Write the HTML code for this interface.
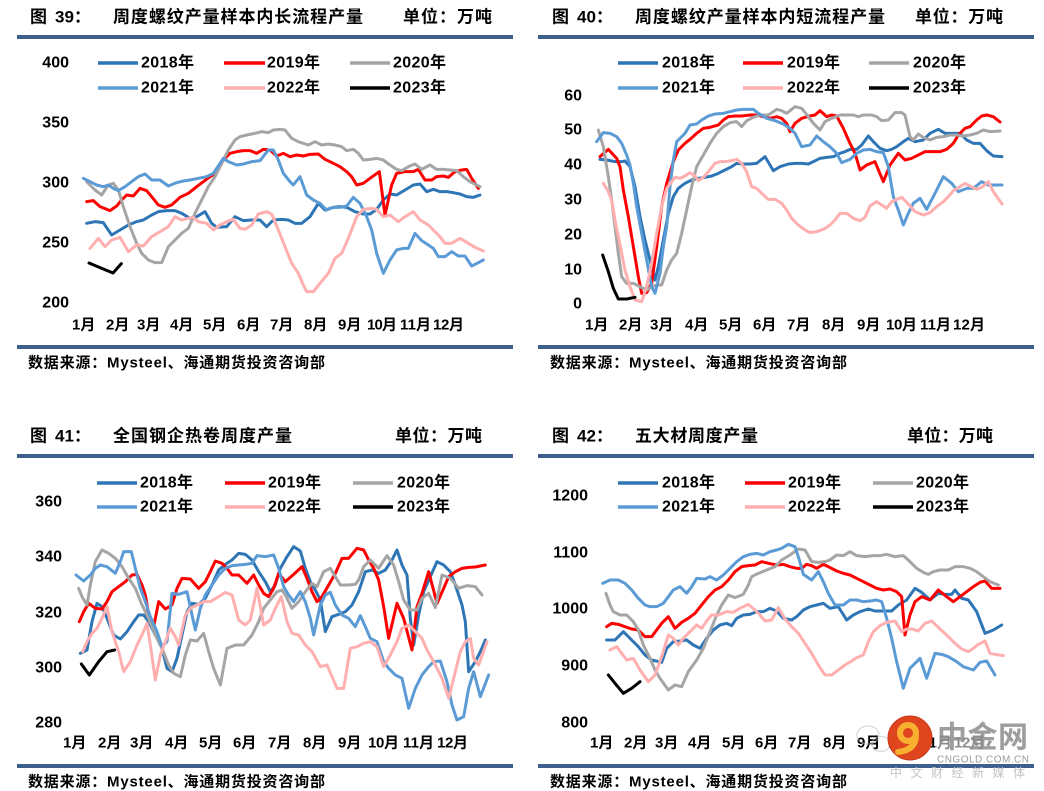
<!DOCTYPE html>
<html><head><meta charset="utf-8">
<style>
html,body{margin:0;padding:0;background:#fff;}
svg{display:block;}
.t{font-family:"Liberation Sans","Noto Sans CJK SC",sans-serif;font-weight:bold;font-size:17px;fill:#000;}
.ax{font-family:"Liberation Sans",sans-serif;font-weight:bold;font-size:16px;fill:#000;}
.lg{font-family:"Liberation Sans","Noto Sans CJK SC",sans-serif;font-weight:bold;font-size:16px;fill:#000;}
.mo{font-family:"Liberation Sans","Noto Sans CJK SC",sans-serif;font-weight:bold;font-size:15px;fill:#000;}
.src{font-family:"Liberation Sans","Noto Sans CJK SC",sans-serif;font-weight:bold;font-size:15px;fill:#000;}
.s{fill:none;stroke-width:9;stroke-linejoin:round;stroke-linecap:round;}
.c18{stroke:#2E75B6}.c19{stroke:#FF0000}.c20{stroke:#A5A5A5}.c21{stroke:#5B9BD5}.c22{stroke:#FFAFAF}.c23{stroke:#000}
.l{stroke-width:3.5;}
</style></head><body>
<svg width="1044" height="791" viewBox="0 0 1044 791" xmlns="http://www.w3.org/2000/svg">
<rect width="1044" height="791" fill="#fff"/>

<!-- ============ CHART 39 ============ -->
<text class="t" x="30" y="17" dominant-baseline="central">图</text>
<text class="t" x="55" y="17" dominant-baseline="central">39：</text>
<text class="t" x="113" y="17" dominant-baseline="central" textLength="250" lengthAdjust="spacing">周度螺纹产量样本内长流程产量</text>
<text class="t" x="403" y="17" dominant-baseline="central" textLength="89" lengthAdjust="spacing">单位：万吨</text>
<rect x="17" y="35" width="496" height="4" fill="#3D5F8E"/>
<g class="ax" text-anchor="end">
<text x="69" y="63" dominant-baseline="central">400</text>
<text x="69" y="123" dominant-baseline="central">350</text>
<text x="69" y="183" dominant-baseline="central">300</text>
<text x="69" y="243" dominant-baseline="central">250</text>
<text x="69" y="303" dominant-baseline="central">200</text>
</g>
<g>
<line x1="98" y1="63" x2="138" y2="63" class="c18 l"/><text class="lg" x="141" y="63" dominant-baseline="central" textLength="53">2018年</text>
<line x1="224" y1="63" x2="265" y2="63" class="c19 l"/><text class="lg" x="267" y="63" dominant-baseline="central" textLength="53">2019年</text>
<line x1="350" y1="63" x2="390" y2="63" class="c20 l"/><text class="lg" x="393" y="63" dominant-baseline="central" textLength="53">2020年</text>
<line x1="98" y1="88" x2="138" y2="88" class="c21 l"/><text class="lg" x="141" y="88" dominant-baseline="central" textLength="53">2021年</text>
<line x1="224" y1="88" x2="265" y2="88" class="c22 l"/><text class="lg" x="267" y="88" dominant-baseline="central" textLength="53">2022年</text>
<line x1="350" y1="88" x2="390" y2="88" class="c23 l"/><text class="lg" x="393" y="88" dominant-baseline="central" textLength="53">2023年</text>
</g>
<g class="mo">
<text x="72" y="325" dominant-baseline="central">1月</text>
<text x="106" y="325" dominant-baseline="central">2月</text>
<text x="137" y="325" dominant-baseline="central">3月</text>
<text x="170" y="325" dominant-baseline="central">4月</text>
<text x="203" y="325" dominant-baseline="central">5月</text>
<text x="237" y="325" dominant-baseline="central">6月</text>
<text x="270" y="325" dominant-baseline="central">7月</text>
<text x="304" y="325" dominant-baseline="central">8月</text>
<text x="338" y="325" dominant-baseline="central">9月</text>
<text x="367" y="325" dominant-baseline="central" textLength="30">10月</text>
<text x="400" y="325" dominant-baseline="central" textLength="31">11月</text>
<text x="433" y="325" dominant-baseline="central" textLength="31">12月</text>
</g>
<g transform="translate(80,120) scale(0.33333)">
<polyline class="s c18" points="20,310 45,305 70,308 95,345 120,330 145,315 170,305 190,300 215,285 235,275 260,272 285,272 305,280 330,295 350,290 375,275 395,310 410,322 440,320 465,290 490,302 515,300 540,300 560,320 580,300 605,298 625,300 645,310 665,310 690,290 715,250 735,270 760,262 780,260 800,262 825,275 850,282 870,282 890,268 910,240 930,222 950,225 975,210 1000,195 1020,192 1040,215 1060,208 1080,215 1100,215 1120,218 1140,222 1160,230 1180,232 1200,225"/>
<polyline class="s c19" points="20,245 40,242 60,260 90,272 110,258 125,240 140,225 160,228 180,205 200,212 215,230 235,255 255,262 275,255 300,232 325,220 350,200 370,185 390,170 410,158 430,120 450,100 470,95 490,92 510,92 530,100 550,88 570,90 590,108 610,100 630,110 650,105 670,108 690,103 715,102 735,118 760,130 780,140 800,155 815,170 830,195 850,190 870,175 898,155 915,285 935,195 950,160 975,155 1000,155 1015,148 1035,180 1055,180 1070,170 1090,168 1105,172 1125,155 1145,150 1160,148 1175,175 1195,205"/>
<polyline class="s c20" points="20,185 45,210 65,225 85,195 100,190 115,210 130,260 150,320 170,370 185,400 205,420 225,428 245,428 265,380 285,360 305,340 325,325 345,280 365,240 385,200 405,170 425,130 445,90 465,60 480,50 500,45 525,40 545,35 565,38 580,30 600,28 615,30 635,55 655,65 685,75 705,65 725,75 745,72 765,75 785,80 800,92 820,88 835,100 850,120 870,118 890,115 910,120 930,135 950,148 965,152 985,140 1005,132 1025,148 1050,135 1070,148 1090,148 1110,150 1130,152 1150,170 1170,185 1200,200"/>
<polyline class="s c21" points="10,175 30,185 50,195 70,200 85,195 100,205 115,212 135,200 155,185 175,170 195,162 215,180 240,180 265,198 290,188 310,183 330,180 355,175 380,170 400,160 420,130 430,115 445,125 470,135 490,132 515,125 540,122 565,90 580,90 595,120 610,160 630,185 640,195 660,170 680,225 700,240 720,250 740,270 760,262 780,262 800,258 820,232 840,250 860,290 875,330 890,400 910,460 930,420 950,390 970,385 985,385 1005,340 1025,362 1045,375 1060,385 1075,410 1095,410 1115,395 1135,408 1155,408 1175,438 1195,428 1210,420"/>
<polyline class="s c22" points="30,385 55,355 75,380 95,360 120,352 145,395 170,375 190,378 215,350 240,335 265,320 285,290 305,300 325,295 340,292 355,305 380,310 400,330 420,315 440,305 460,298 480,325 495,328 515,315 535,282 560,275 575,282 595,330 615,380 635,430 655,460 670,495 680,515 700,515 720,490 745,460 765,415 785,400 805,355 830,290 850,268 875,265 890,268 910,290 930,285 955,305 975,290 1000,275 1020,300 1045,315 1060,330 1080,350 1095,370 1115,370 1140,355 1165,370 1185,382 1210,393"/>
<polyline class="s c23" points="27,429 60,443 99,459 124,431"/>
</g>
<rect x="17" y="345" width="496" height="4" fill="#3D5F8E"/>
<text class="src" x="28" y="363" dominant-baseline="central" textLength="297" lengthAdjust="spacing">数据来源：Mysteel、海通期货投资咨询部</text>

<!-- ============ CHART 40 ============ -->
<text class="t" x="552" y="17" dominant-baseline="central">图</text>
<text class="t" x="577" y="17" dominant-baseline="central">40：</text>
<text class="t" x="635" y="17" dominant-baseline="central" textLength="250" lengthAdjust="spacing">周度螺纹产量样本内短流程产量</text>
<text class="t" x="915" y="17" dominant-baseline="central" textLength="88" lengthAdjust="spacing">单位：万吨</text>
<rect x="538" y="35" width="496" height="4" fill="#3D5F8E"/>
<g class="ax" text-anchor="end">
<text x="582" y="96" dominant-baseline="central">60</text>
<text x="582" y="130" dominant-baseline="central">50</text>
<text x="582" y="165" dominant-baseline="central">40</text>
<text x="582" y="200" dominant-baseline="central">30</text>
<text x="582" y="235" dominant-baseline="central">20</text>
<text x="582" y="270" dominant-baseline="central">10</text>
<text x="582" y="304" dominant-baseline="central">0</text>
</g>
<g>
<line x1="618" y1="63" x2="658" y2="63" class="c18 l"/><text class="lg" x="662" y="63" dominant-baseline="central" textLength="53">2018年</text>
<line x1="743" y1="63" x2="783" y2="63" class="c19 l"/><text class="lg" x="787" y="63" dominant-baseline="central" textLength="53">2019年</text>
<line x1="869" y1="63" x2="909" y2="63" class="c20 l"/><text class="lg" x="913" y="63" dominant-baseline="central" textLength="53">2020年</text>
<line x1="618" y1="88" x2="658" y2="88" class="c21 l"/><text class="lg" x="662" y="88" dominant-baseline="central" textLength="53">2021年</text>
<line x1="743" y1="88" x2="783" y2="88" class="c22 l"/><text class="lg" x="787" y="88" dominant-baseline="central" textLength="53">2022年</text>
<line x1="869" y1="88" x2="909" y2="88" class="c23 l"/><text class="lg" x="913" y="88" dominant-baseline="central" textLength="53">2023年</text>
</g>
<g class="mo">
<text x="585" y="325" dominant-baseline="central">1月</text>
<text x="619" y="325" dominant-baseline="central">2月</text>
<text x="650" y="325" dominant-baseline="central">3月</text>
<text x="685" y="325" dominant-baseline="central">4月</text>
<text x="719" y="325" dominant-baseline="central">5月</text>
<text x="753" y="325" dominant-baseline="central">6月</text>
<text x="787" y="325" dominant-baseline="central">7月</text>
<text x="822" y="325" dominant-baseline="central">8月</text>
<text x="857" y="325" dominant-baseline="central">9月</text>
<text x="886" y="325" dominant-baseline="central" textLength="31">10月</text>
<text x="920" y="325" dominant-baseline="central" textLength="31">11月</text>
<text x="953" y="325" dominant-baseline="central" textLength="32">12月</text>
</g>
<g transform="translate(590,100) scale(0.33333)">
<polyline class="s c18" points="30,178 50,180 75,185 95,185 105,183 120,200 135,260 150,350 165,420 180,480 195,540 205,500 220,420 235,340 250,290 265,265 285,250 305,240 325,235 345,232 365,228 385,220 405,210 425,200 440,190 460,192 480,192 500,190 525,170 550,212 570,200 595,192 615,190 635,190 655,192 670,185 690,175 710,172 730,170 750,160 765,155 780,148 800,148 815,135 835,108 850,125 870,145 890,152 905,148 920,140 940,125 955,115 975,125 1000,120 1020,100 1045,88 1065,100 1090,100 1110,100 1130,120 1150,130 1170,130 1190,152 1210,168 1236,170"/>
<polyline class="s c19" points="30,170 55,148 80,175 90,200 100,270 115,350 130,440 145,530 155,580 170,578 185,550 200,440 215,320 230,250 250,185 265,150 285,130 300,118 320,100 340,85 360,82 385,75 400,60 415,50 435,48 455,48 480,45 500,45 520,50 540,55 560,50 575,55 590,70 600,95 615,70 635,55 660,48 675,45 690,32 710,50 725,45 740,48 760,85 780,130 795,160 810,210 830,195 855,185 880,245 900,195 925,160 945,180 965,175 985,165 1005,155 1030,155 1050,155 1070,148 1090,130 1105,105 1125,85 1140,80 1160,60 1175,48 1190,45 1210,50 1230,66"/>
<polyline class="s c20" points="25,90 40,140 55,230 65,300 75,380 85,460 95,530 110,550 130,550 150,560 170,570 185,560 200,555 215,555 230,510 245,480 260,460 275,400 290,330 305,260 320,200 340,165 360,130 380,100 400,80 420,68 440,65 455,80 470,62 490,52 510,45 535,45 560,28 575,32 590,40 615,20 635,25 655,50 670,70 690,90 705,65 725,55 750,45 770,45 790,45 805,50 820,45 845,45 860,50 875,62 895,60 915,38 935,38 945,45 960,110 970,120 985,102 1000,112 1020,120 1040,112 1060,110 1080,105 1100,105 1120,108 1140,105 1160,100 1180,90 1200,95 1230,93"/>
<polyline class="s c21" points="20,125 40,98 60,100 80,110 95,130 110,165 120,195 130,250 140,320 155,400 170,480 185,560 195,580 210,520 220,440 230,380 240,260 250,180 260,125 285,100 300,75 320,72 335,60 355,48 375,42 400,40 420,35 440,30 460,28 490,28 505,40 530,55 555,62 580,72 600,85 615,100 635,140 660,135 680,108 700,125 720,140 740,160 755,188 780,178 800,160 820,150 840,148 860,155 880,158 895,200 910,290 925,330 940,375 955,340 970,310 990,295 1010,328 1035,280 1060,230 1085,250 1105,275 1130,265 1150,265 1175,245 1195,255 1236,255"/>
<polyline class="s c22" points="40,250 55,275 65,300 75,360 85,410 95,460 105,510 120,560 135,600 155,605 170,560 185,490 200,400 215,320 230,265 245,245 255,232 270,235 285,228 300,218 315,228 325,242 340,232 355,215 375,190 390,185 405,185 425,182 440,178 455,190 470,215 485,260 500,265 515,280 535,298 555,298 575,310 590,330 605,355 625,375 645,390 660,398 680,395 700,388 720,375 735,360 750,340 770,340 790,355 810,362 825,352 840,318 860,305 875,315 890,325 905,305 935,292 955,312 975,335 1000,345 1020,338 1040,320 1060,305 1075,290 1090,272 1110,260 1125,250 1140,258 1160,268 1175,262 1195,245 1210,275 1236,312"/>
<polyline class="s c23" points="38,465 55,515 70,565 85,597 110,597 135,592"/>
</g>
<rect x="538" y="345" width="496" height="4" fill="#3D5F8E"/>
<text class="src" x="550" y="363" dominant-baseline="central" textLength="297" lengthAdjust="spacing">数据来源：Mysteel、海通期货投资咨询部</text>

<!-- ============ CHART 41 ============ -->
<text class="t" x="30" y="436" dominant-baseline="central">图</text>
<text class="t" x="55" y="436" dominant-baseline="central">41：</text>
<text class="t" x="113" y="436" dominant-baseline="central" textLength="179" lengthAdjust="spacing">全国钢企热卷周度产量</text>
<text class="t" x="395" y="436" dominant-baseline="central" textLength="87" lengthAdjust="spacing">单位：万吨</text>
<rect x="17" y="454" width="496" height="4" fill="#3D5F8E"/>
<g class="ax" text-anchor="end">
<text x="62" y="502" dominant-baseline="central">360</text>
<text x="62" y="557" dominant-baseline="central">340</text>
<text x="62" y="613" dominant-baseline="central">320</text>
<text x="62" y="668" dominant-baseline="central">300</text>
<text x="62" y="723" dominant-baseline="central">280</text>
</g>
<g>
<line x1="97" y1="483" x2="137" y2="483" class="c18 l"/><text class="lg" x="140" y="483" dominant-baseline="central" textLength="53">2018年</text>
<line x1="225" y1="483" x2="265" y2="483" class="c19 l"/><text class="lg" x="268" y="483" dominant-baseline="central" textLength="53">2019年</text>
<line x1="353" y1="483" x2="393" y2="483" class="c20 l"/><text class="lg" x="397" y="483" dominant-baseline="central" textLength="53">2020年</text>
<line x1="97" y1="507" x2="137" y2="507" class="c21 l"/><text class="lg" x="140" y="507" dominant-baseline="central" textLength="53">2021年</text>
<line x1="225" y1="507" x2="265" y2="507" class="c22 l"/><text class="lg" x="268" y="507" dominant-baseline="central" textLength="53">2022年</text>
<line x1="353" y1="507" x2="393" y2="507" class="c23 l"/><text class="lg" x="397" y="507" dominant-baseline="central" textLength="53">2023年</text>
</g>
<g class="mo">
<text x="63" y="743" dominant-baseline="central">1月</text>
<text x="98" y="743" dominant-baseline="central">2月</text>
<text x="130" y="743" dominant-baseline="central">3月</text>
<text x="165" y="743" dominant-baseline="central">4月</text>
<text x="199" y="743" dominant-baseline="central">5月</text>
<text x="233" y="743" dominant-baseline="central">6月</text>
<text x="268" y="743" dominant-baseline="central">7月</text>
<text x="303" y="743" dominant-baseline="central">8月</text>
<text x="338" y="743" dominant-baseline="central">9月</text>
<text x="368" y="743" dominant-baseline="central" textLength="31">10月</text>
<text x="403" y="743" dominant-baseline="central" textLength="31">11月</text>
<text x="437" y="743" dominant-baseline="central" textLength="31">12月</text>
</g>
<g transform="translate(72,535) scale(0.33333)">
<polyline class="s c18" points="25,355 45,345 60,260 75,205 90,215 105,250 125,300 145,312 165,290 185,260 200,240 215,240 230,260 250,300 270,340 285,400 300,410 315,370 330,300 345,230 360,205 380,208 400,190 420,150 440,105 460,88 480,75 500,55 520,58 540,75 560,110 580,140 595,170 610,150 625,100 645,65 665,35 685,48 700,100 715,140 730,165 745,195 760,290 780,245 800,238 820,230 840,210 860,170 880,110 900,105 920,115 940,105 960,75 975,45 990,90 1005,120 1015,250 1025,330 1040,240 1055,170 1075,125 1095,80 1115,90 1135,110 1150,150 1170,210 1180,260 1190,410 1210,380 1225,350 1240,315"/>
<polyline class="s c19" points="22,260 35,230 50,205 70,220 90,222 105,200 120,170 140,155 160,140 180,120 195,118 210,150 220,180 230,240 245,275 260,200 280,222 300,210 315,160 330,130 355,132 380,160 400,140 415,110 430,78 450,85 465,100 480,120 500,120 525,145 545,120 560,150 575,175 590,185 605,160 620,115 640,140 665,118 690,95 705,130 720,170 735,200 750,185 770,150 790,115 810,70 830,70 855,40 875,45 890,75 905,100 920,135 935,215 950,310 975,205 995,250 1020,345 1035,215 1050,175 1070,110 1095,205 1115,160 1130,125 1150,110 1170,100 1190,97 1210,96 1240,90"/>
<polyline class="s c20" points="20,160 30,185 45,210 55,150 70,80 90,45 110,55 130,70 150,95 170,130 190,160 210,210 230,250 250,300 270,340 290,390 305,415 325,425 340,360 355,315 375,318 395,295 410,350 425,400 445,450 465,340 490,330 515,330 540,300 560,260 575,220 595,195 615,170 630,165 640,180 660,220 680,200 700,170 720,145 735,155 755,110 775,100 790,125 805,150 830,150 850,148 860,135 875,95 895,75 920,100 945,62 965,90 980,140 995,195 1015,225 1035,225 1050,190 1070,175 1090,218 1110,120 1135,130 1160,160 1185,152 1210,155 1230,180"/>
<polyline class="s c21" points="12,120 35,138 55,120 70,100 85,90 105,95 130,115 145,80 155,50 178,50 190,100 205,160 220,200 235,245 255,290 270,335 285,320 300,175 320,178 345,170 360,240 370,285 385,220 400,180 420,150 440,120 460,100 480,92 500,90 520,88 540,85 555,62 580,65 605,60 620,100 635,155 650,180 665,200 685,170 700,200 715,250 725,300 745,210 760,180 775,172 790,210 810,240 830,250 850,275 865,242 880,275 895,310 915,320 935,380 950,400 970,420 990,430 1010,520 1030,460 1050,420 1070,395 1085,380 1105,378 1125,440 1140,510 1155,555 1175,545 1190,460 1205,410 1225,485 1250,420"/>
<polyline class="s c22" points="32,350 45,320 60,295 75,280 90,250 105,215 120,290 140,350 155,410 175,380 195,330 210,300 225,265 235,330 250,435 265,360 280,320 295,280 310,305 320,330 340,240 355,220 375,210 395,200 415,200 440,185 460,172 480,180 500,255 520,270 535,255 555,160 575,270 595,255 610,220 628,185 645,260 660,295 680,300 700,330 720,350 745,395 765,390 795,460 815,460 835,340 855,335 875,325 895,320 915,335 935,395 955,360 975,320 990,280 1010,270 1030,290 1050,310 1065,345 1085,380 1110,430 1130,490 1145,430 1165,350 1180,320 1195,310 1205,370 1220,390 1245,320"/>
<polyline class="s c23" points="28,387 52,420 80,380 105,350 128,345"/>
</g>
<rect x="17" y="764" width="496" height="4" fill="#3D5F8E"/>
<text class="src" x="28" y="782" dominant-baseline="central" textLength="297" lengthAdjust="spacing">数据来源：Mysteel、海通期货投资咨询部</text>

<!-- ============ CHART 42 ============ -->
<text class="t" x="552" y="436" dominant-baseline="central">图</text>
<text class="t" x="577" y="436" dominant-baseline="central">42：</text>
<text class="t" x="635" y="436" dominant-baseline="central" textLength="123" lengthAdjust="spacing">五大材周度产量</text>
<text class="t" x="907" y="436" dominant-baseline="central" textLength="86" lengthAdjust="spacing">单位：万吨</text>
<rect x="538" y="454" width="496" height="4" fill="#3D5F8E"/>
<g class="ax" text-anchor="end">
<text x="588" y="496" dominant-baseline="central">1200</text>
<text x="588" y="553" dominant-baseline="central">1100</text>
<text x="588" y="609" dominant-baseline="central">1000</text>
<text x="588" y="666" dominant-baseline="central">900</text>
<text x="588" y="723" dominant-baseline="central">800</text>
</g>
<g>
<line x1="618" y1="483" x2="658" y2="483" class="c18 l"/><text class="lg" x="662" y="483" dominant-baseline="central" textLength="53">2018年</text>
<line x1="745" y1="483" x2="785" y2="483" class="c19 l"/><text class="lg" x="788" y="483" dominant-baseline="central" textLength="53">2019年</text>
<line x1="873" y1="483" x2="913" y2="483" class="c20 l"/><text class="lg" x="916" y="483" dominant-baseline="central" textLength="53">2020年</text>
<line x1="618" y1="507" x2="658" y2="507" class="c21 l"/><text class="lg" x="662" y="507" dominant-baseline="central" textLength="53">2021年</text>
<line x1="745" y1="507" x2="785" y2="507" class="c22 l"/><text class="lg" x="788" y="507" dominant-baseline="central" textLength="53">2022年</text>
<line x1="873" y1="507" x2="913" y2="507" class="c23 l"/><text class="lg" x="916" y="507" dominant-baseline="central" textLength="53">2023年</text>
</g>
<g class="mo">
<text x="590" y="743" dominant-baseline="central">1月</text>
<text x="624" y="743" dominant-baseline="central">2月</text>
<text x="655" y="743" dominant-baseline="central">3月</text>
<text x="688" y="743" dominant-baseline="central">4月</text>
<text x="722" y="743" dominant-baseline="central">5月</text>
<text x="755" y="743" dominant-baseline="central">6月</text>
<text x="788" y="743" dominant-baseline="central">7月</text>
<text x="823" y="743" dominant-baseline="central">8月</text>
<text x="857" y="743" dominant-baseline="central">9月</text>
<text x="888" y="743" dominant-baseline="central" textLength="31">10月</text>
<text x="921" y="743" dominant-baseline="central" textLength="31">11月</text>
<text x="954" y="743" dominant-baseline="central" textLength="31">12月</text>
</g>
<g transform="translate(590,535) scale(0.33333)">
<polyline class="s c18" points="50,315 75,315 100,290 125,315 145,335 165,360 185,375 215,382 230,340 250,320 270,318 290,315 310,330 330,340 350,310 370,285 390,270 410,265 425,272 440,250 460,240 480,238 500,230 520,230 540,220 560,228 580,250 605,255 620,245 640,225 660,215 680,210 700,205 720,220 745,215 770,255 790,240 810,230 835,222 855,228 880,228 905,228 925,210 950,195 975,160 995,172 1020,195 1045,175 1065,178 1085,178 1095,165 1115,190 1135,195 1160,230 1185,295 1210,285 1235,270"/>
<polyline class="s c19" points="50,275 65,265 85,268 105,275 125,282 145,285 165,305 185,305 200,285 215,265 235,245 255,280 275,262 295,250 315,235 335,210 355,185 375,165 395,155 415,135 435,110 455,95 475,92 495,90 515,80 535,85 560,90 580,88 600,95 620,100 635,100 650,88 665,92 680,100 700,88 715,95 740,108 760,115 780,120 800,130 820,140 840,150 860,160 880,165 900,162 920,170 935,185 945,300 960,240 975,200 995,185 1020,195 1045,165 1070,185 1090,200 1110,185 1130,170 1150,155 1170,142 1185,138 1205,160 1230,160"/>
<polyline class="s c20" points="48,175 60,210 70,230 90,240 110,240 130,260 145,285 160,330 180,370 195,405 210,430 235,465 255,450 275,455 295,410 320,375 340,340 360,290 380,240 395,210 415,180 435,188 460,178 475,150 485,125 505,115 530,105 555,95 575,75 600,60 625,42 645,45 665,80 685,82 705,80 720,75 740,60 760,62 780,50 800,62 825,65 850,62 870,62 890,58 915,65 940,62 960,80 980,100 1000,112 1015,118 1030,110 1050,105 1075,105 1095,95 1120,95 1140,100 1160,110 1180,125 1200,140 1225,150"/>
<polyline class="s c21" points="38,145 60,135 85,135 105,145 125,165 145,190 165,210 180,215 200,215 220,205 235,185 250,165 270,155 290,175 305,155 320,130 345,132 360,125 380,135 400,120 420,100 440,80 460,65 480,58 500,55 520,60 540,50 560,45 575,40 595,28 615,35 628,75 640,118 665,135 685,110 700,140 715,175 735,210 760,210 780,195 800,195 820,200 840,198 860,195 875,200 890,250 905,310 920,380 940,460 960,400 990,370 1010,430 1035,355 1055,358 1075,365 1100,380 1120,395 1150,405 1170,382 1190,378 1215,420"/>
<polyline class="s c22" points="60,345 80,335 95,355 110,375 130,370 150,405 175,440 195,420 215,365 235,300 250,310 265,330 280,310 300,290 320,270 335,280 350,258 365,240 385,240 410,230 430,232 450,220 475,208 495,225 510,240 525,258 545,255 565,218 585,252 605,275 625,295 645,325 665,355 685,390 705,420 725,420 745,405 765,390 785,378 800,368 820,360 835,320 850,290 870,272 890,262 915,258 935,290 950,282 965,282 985,288 1005,265 1025,258 1050,282 1075,305 1095,325 1115,342 1135,350 1150,340 1165,328 1185,318 1200,355 1215,358 1240,362"/>
<polyline class="s c23" points="55,420 75,445 100,475 125,460 150,440"/>
</g>
<rect x="538" y="764" width="496" height="4" fill="#3D5F8E"/>
<text class="src" x="550" y="782" dominant-baseline="central" textLength="297" lengthAdjust="spacing">数据来源：Mysteel、海通期货投资咨询部</text>

<!-- ============ WATERMARK ============ -->
<g opacity="0.55" fill="none" stroke="#bbb" stroke-width="1.2">
<ellipse cx="868" cy="735" rx="11" ry="9"/>
<ellipse cx="881" cy="744" rx="9" ry="7.5"/>
</g>
<rect x="935" y="722" width="97" height="33" fill="#fff" opacity="0.55"/>
<text x="937" y="738" dominant-baseline="central" font-family="'Liberation Sans','Noto Sans CJK SC',sans-serif" font-weight="bold" font-size="30" fill="#8C8C8C" opacity="0.85" textLength="91" lengthAdjust="spacing">中金网</text>
<circle cx="910" cy="738" r="22" fill="#E0461E"/>
<circle cx="910" cy="738" r="22" fill="none" stroke="#C9361A" stroke-width="1"/>
<circle cx="908" cy="733" r="8" fill="none" stroke="#F7B030" stroke-width="6"/>
<path d="M916,735 Q916,750 898,752" fill="none" stroke="#F7B030" stroke-width="6" stroke-linecap="round"/>
<text x="937" y="760" dominant-baseline="central" font-family="'Liberation Sans',sans-serif" font-size="10" fill="#9a9a9a" textLength="92" lengthAdjust="spacing">CNGOLD.COM.CN</text>
<text x="890" y="773" dominant-baseline="central" font-family="'Liberation Sans','Noto Sans CJK SC',sans-serif" font-size="12" fill="#c4c4c4" textLength="135" lengthAdjust="spacing">中文财经新媒体</text>
</svg>
</body></html>
